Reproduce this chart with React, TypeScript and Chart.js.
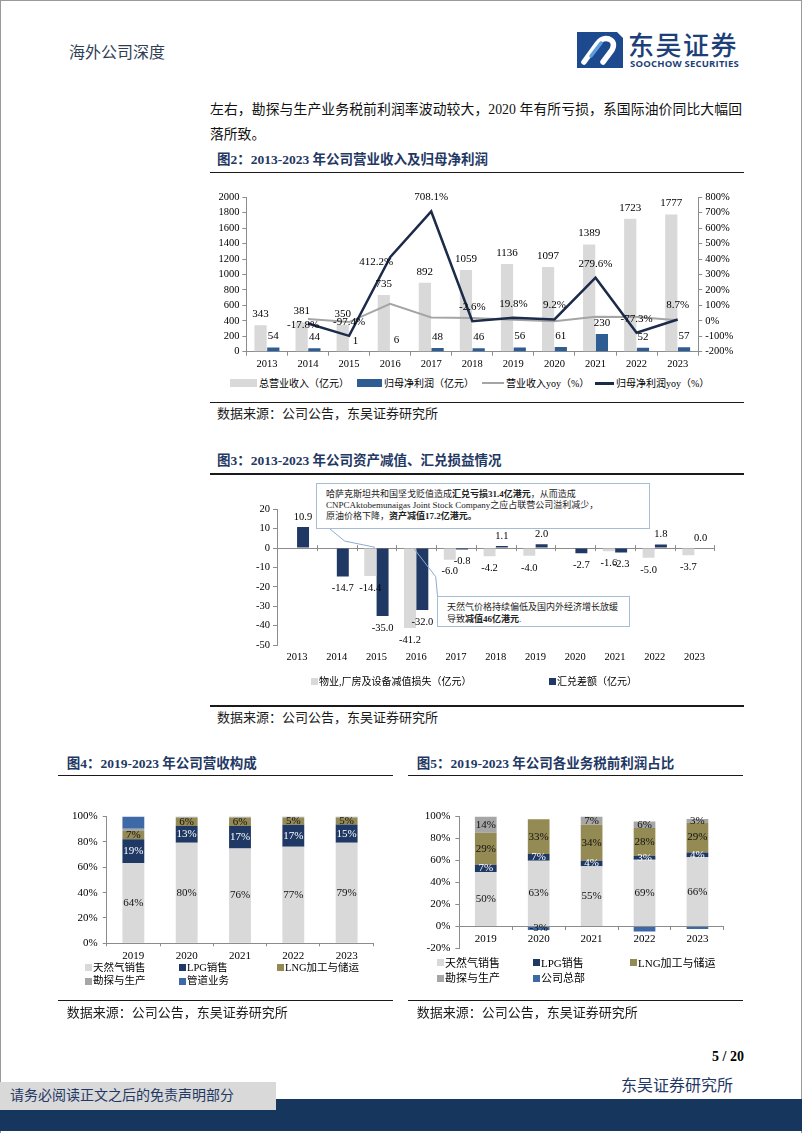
import React, { useEffect, useRef } from 'react';
import { Chart, registerables } from 'chart.js';
Chart.register(...registerables);

const SERIF = "'Liberation Serif', 'Noto Sans CJK SC', serif";
const AXIS = '#8c8c8c';
const C_LIGHT = '#d9d9d9';
const C_BLUE = '#2e5d93';
const C_NAVY = '#1f3864';
const C_LINE_DARK = '#1c2b4a';
const C_LINE_GRAY = '#a5a5a5';
const C_OLIVE = '#948a54';
const C_EXPL = '#a6a6a6';
const C_PIPE = '#3d6aa6';

// ===== 图2 =====
const years2 = ['2013', '2014', '2015', '2016', '2017', '2018', '2019', '2020', '2021', '2022', '2023'];
const revenue = [343, 381, 350, 735, 892, 1059, 1136, 1097, 1389, 1723, 1777];
const netProfit = [54, 44, 1, 6, 48, 46, 56, 61, 230, 52, 57];
const revenueYoy = [null, 11.1, -8.1, 110.0, 21.4, 18.7, 7.3, -3.4, 26.6, 24.0, 3.1];
const profitYoy = [null, -17.8, -97.4, 412.2, 708.1, -2.6, 19.8, 9.2, 279.6, -77.3, 8.7];

// ===== 图3 =====
const years3 = ['2013', '2014', '2015', '2016', '2017', '2018', '2019', '2020', '2021', '2022', '2023'];
const impairment = [null, null, -14.4, -41.2, -6.0, -4.2, -4.0, null, -1.6, -5.0, -3.7];
const fxDiff = [10.9, -14.7, -35.0, -32.0, -0.8, 1.1, 2.0, -2.7, -2.3, 1.8, 0.0];

// ===== 图4 =====
const years4 = ['2019', '2020', '2021', '2022', '2023'];
const rev4Gas = [63.3, 79.3, 74.9, 76.2, 79.3];
const rev4Lpg = [18.9, 13.2, 17.6, 17.3, 14.5];
const rev4Lng = [6.4, 6.5, 6.5, 5.5, 5.2];
const rev4Exp = [1.8, 1.0, 1.0, 1.0, 1.0];
const rev4Pipe = [9.6, 0, 0, 0, 0];
const rev4GasLbl = ['64%', '80%', '76%', '77%', '79%'];
const rev4LpgLbl = ['19%', '13%', '17%', '17%', '15%'];
const rev4LngLbl = ['7%', '6%', '6%', '5%', '5%'];

// ===== 图5 =====
const years5 = ['2019', '2020', '2021', '2022', '2023'];
const pf5Gas = [49.6, 59.9, 54.9, 60.8, 62.9];
const pf5Lpg = [6.5, 6.0, 5.0, 3.6, 4.5];
const pf5Lng = [29.1, 31.7, 32.7, 25.2, 27.3];
const pf5Exp = [14.8, 0, 7.4, 5.9, 3.2];
const pf5Hq = [0, -3.3, 0, -4.7, -2.4];
const pf5GasLbl = ['50%', '63%', '55%', '69%', '66%'];
const pf5LpgLbl = ['7%', '7%', '4%', '3%', '4%'];
const pf5LngLbl = ['29%', '33%', '34%', '28%', '29%'];
const pf5ExpLbl = ['14%', '', '7%', '6%', '3%'];
const pf5HqLbl = ['', '-3%', '', '', ''];

const tickFont = (size: number) => ({ family: SERIF, size });

// ---------- plugins ----------
const labels2Plugin = {
  id: 'labels2',
  afterDatasetsDraw(chart: any) {
    const ctx = chart.ctx;
    ctx.save();
    ctx.font = `11px ${SERIF}`;
    ctx.fillStyle = '#000';
    ctx.textAlign = 'center';
    ctx.textBaseline = 'middle';
    [revenue, netProfit].forEach((arr, di) => {
      chart.getDatasetMeta(di).data.forEach((el: any, i: number) => {
        ctx.fillText(String(arr[i]), el.x, el.y - 11);
      });
    });
    chart.getDatasetMeta(3).data.forEach((el: any, i: number) => {
      const v = profitYoy[i];
      if (v == null) return;
      let dx = 0;
      let dy = -14;
      if (i === 1) { dx = -5; dy = 2; }
      if (i === 3) { dx = -14; dy = 5; }
      ctx.fillText(v.toFixed(1) + '%', el.x + dx, el.y + dy);
    });
    ctx.restore();
  },
};

const labels3Plugin = {
  id: 'labels3',
  afterDatasetsDraw(chart: any) {
    const ctx = chart.ctx;
    const xs = chart.scales.x;
    const ys = chart.scales.y;
    const y0 = ys.getPixelForValue(0);
    const half = (xs.getPixelForValue(1) - xs.getPixelForValue(0)) / 2;
    ctx.save();
    ctx.strokeStyle = AXIS;
    ctx.lineWidth = 1;
    for (let i = 0; i <= years3.length; i++) {
      const px = Math.round(xs.getPixelForValue(0) - half + 2 * half * i) + 0.5;
      ctx.beginPath();
      ctx.moveTo(px, y0 - 3);
      ctx.lineTo(px, y0 + 3);
      ctx.stroke();
    }
    ctx.font = `10.5px ${SERIF}`;
    ctx.fillStyle = '#000';
    ctx.textAlign = 'center';
    ctx.textBaseline = 'middle';
    [impairment, fxDiff].forEach((arr, di) => {
      chart.getDatasetMeta(di).data.forEach((el: any, i: number) => {
        const v = arr[i];
        if (v == null) return;
        const yy = v >= 0 ? el.y - 10 : el.y + 12;
        ctx.fillText(v.toFixed(1), el.x, yy);
      });
    });
    ctx.restore();
  },
};

function stackLabels(id: string, lbls: (string[] | null)[], colors: string[]) {
  return {
    id,
    afterDatasetsDraw(chart: any) {
      const ctx = chart.ctx;
      ctx.save();
      ctx.font = `11px ${SERIF}`;
      ctx.textAlign = 'center';
      ctx.textBaseline = 'middle';
      lbls.forEach((arr, di) => {
        if (!arr) return;
        chart.getDatasetMeta(di).data.forEach((el: any, i: number) => {
          const t = arr[i];
          if (!t) return;
          ctx.fillStyle = colors[di];
          ctx.fillText(t, el.x, (el.y + el.base) / 2);
        });
      });
      ctx.restore();
    },
  };
}

// ---------- chart configs ----------
const make2 = () => ({
  type: 'bar',
  data: {
    labels: years2,
    datasets: [
      { type: 'bar', label: '总营业收入（亿元）', data: revenue, backgroundColor: C_LIGHT, yAxisID: 'y', order: 2, categoryPercentage: 0.62, barPercentage: 0.96 },
      { type: 'bar', label: '归母净利润（亿元）', data: netProfit, backgroundColor: C_BLUE, yAxisID: 'y', order: 2, categoryPercentage: 0.62, barPercentage: 0.96 },
      { type: 'line', label: '营业收入yoy（%）', data: revenueYoy, borderColor: C_LINE_GRAY, borderWidth: 2, pointRadius: 0, yAxisID: 'y1', order: 1, tension: 0 },
      { type: 'line', label: '归母净利润yoy（%）', data: profitYoy, borderColor: C_LINE_DARK, borderWidth: 2.5, pointRadius: 0, yAxisID: 'y1', order: 0, tension: 0 },
    ],
  },
  options: {
    responsive: false,
    animation: false,
    devicePixelRatio: 1,
    layout: { padding: { top: 12.3, left: 0, right: 0, bottom: 0 } },
    plugins: { legend: { display: false }, tooltip: { enabled: false } },
    scales: {
      x: {
        grid: { drawOnChartArea: false, tickLength: 4, color: AXIS },
        border: { color: AXIS },
        ticks: { font: tickFont(10.5), color: '#000', padding: 2 },
        afterFit: (s: any) => { s.height = 18.3; },
      },
      y: {
        position: 'left', min: 0, max: 2000,
        ticks: { stepSize: 200, autoSkip: false, font: tickFont(10.5), color: '#000', padding: 3, callback: (v: any) => String(v) },
        grid: { drawOnChartArea: false, tickLength: 4, color: AXIS },
        border: { color: AXIS },
        afterFit: (s: any) => { s.width = 46.4; },
      },
      y1: {
        position: 'right', min: -200, max: 800,
        ticks: { stepSize: 100, autoSkip: false, font: tickFont(10.5), color: '#000', padding: 3, callback: (v: any) => v + '%' },
        grid: { drawOnChartArea: false, tickLength: 4, color: AXIS },
        border: { color: AXIS },
        afterFit: (s: any) => { s.width = 61.8; },
      },
    },
  },
  plugins: [labels2Plugin],
});

const make3 = () => ({
  type: 'bar',
  data: {
    labels: years3,
    datasets: [
      { label: '物业,厂房及设备减值损失（亿元）', data: impairment, backgroundColor: C_LIGHT, categoryPercentage: 0.62, barPercentage: 0.97 },
      { label: '汇兑差额（亿元）', data: fxDiff, backgroundColor: C_NAVY, categoryPercentage: 0.62, barPercentage: 0.97 },
    ],
  },
  options: {
    responsive: false,
    animation: false,
    devicePixelRatio: 1,
    layout: { padding: { top: 11.3, left: 0, right: 30.6, bottom: 0 } },
    plugins: { legend: { display: false }, tooltip: { enabled: false } },
    scales: {
      x: {
        grid: { display: false, drawTicks: false },
        border: { display: false },
        ticks: { font: tickFont(10.5), color: '#000', padding: 6 },
        afterFit: (s: any) => { s.height = 18; },
      },
      y: {
        min: -50, max: 20,
        ticks: { stepSize: 10, autoSkip: false, font: tickFont(10.5), color: '#000', padding: 3 },
        grid: {
          color: (c: any) => (c.tick && c.tick.value === 0 ? AXIS : 'rgba(0,0,0,0)'),
          tickColor: AXIS, tickLength: 4,
        },
        border: { color: AXIS },
        afterFit: (s: any) => { s.width = 62; },
      },
    },
  },
  plugins: [labels3Plugin],
});

const make4 = () => ({
  type: 'bar',
  data: {
    labels: years4,
    datasets: [
      { label: '天然气销售', data: rev4Gas, backgroundColor: C_LIGHT },
      { label: 'LPG销售', data: rev4Lpg, backgroundColor: C_NAVY },
      { label: 'LNG加工与储运', data: rev4Lng, backgroundColor: C_OLIVE },
      { label: '勘探与生产', data: rev4Exp, backgroundColor: C_EXPL },
      { label: '管道业务', data: rev4Pipe, backgroundColor: C_PIPE },
    ],
  },
  options: {
    responsive: false,
    animation: false,
    devicePixelRatio: 1,
    datasets: { bar: { categoryPercentage: 0.82, barPercentage: 0.5 } },
    layout: { padding: { top: 9.3, left: 0, right: 16.7, bottom: 0 } },
    plugins: { legend: { display: false }, tooltip: { enabled: false } },
    scales: {
      x: {
        stacked: true,
        grid: { drawOnChartArea: false, tickLength: 3, color: AXIS },
        border: { color: AXIS },
        ticks: { font: tickFont(11), color: '#000', padding: 3 },
        afterFit: (s: any) => { s.height = 21.7; },
      },
      y: {
        stacked: true, min: 0, max: 100,
        ticks: { stepSize: 20, autoSkip: false, font: tickFont(11), color: '#000', padding: 5, callback: (v: any) => v + '%' },
        grid: { drawOnChartArea: false, tickLength: 4, color: AXIS },
        border: { color: AXIS },
        afterFit: (s: any) => { s.width = 56.7; },
      },
    },
  },
  plugins: [stackLabels('labels4', [rev4GasLbl, rev4LpgLbl, rev4LngLbl, null, null], ['#111', '#fff', '#111', '#111', '#111'])],
});

const make5 = () => ({
  type: 'bar',
  data: {
    labels: years5,
    datasets: [
      { label: '天然气销售', data: pf5Gas, backgroundColor: C_LIGHT },
      { label: 'LPG销售', data: pf5Lpg, backgroundColor: C_NAVY },
      { label: 'LNG加工与储运', data: pf5Lng, backgroundColor: C_OLIVE },
      { label: '勘探与生产', data: pf5Exp, backgroundColor: C_EXPL },
      { label: '公司总部', data: pf5Hq, backgroundColor: C_PIPE },
    ],
  },
  options: {
    responsive: false,
    animation: false,
    devicePixelRatio: 1,
    datasets: { bar: { categoryPercentage: 0.82, barPercentage: 0.5 } },
    layout: { padding: { top: 10, left: 0, right: 16.1, bottom: 10.7 } },
    plugins: { legend: { display: false }, tooltip: { enabled: false } },
    scales: {
      x: {
        stacked: true,
        position: { y: 0 },
        grid: { drawOnChartArea: false, tickLength: 3, color: AXIS },
        border: { color: AXIS },
        ticks: { font: tickFont(11), color: '#000', padding: 3 },
      },
      y: {
        stacked: true, min: -20, max: 100,
        ticks: { stepSize: 20, autoSkip: false, font: tickFont(11), color: '#000', padding: 5, callback: (v: any) => v + '%' },
        grid: { drawOnChartArea: false, tickLength: 4, color: AXIS },
        border: { color: AXIS },
        afterFit: (s: any) => { s.width = 59.3; },
      },
    },
  },
  plugins: [stackLabels('labels5', [pf5GasLbl, pf5LpgLbl, pf5LngLbl, pf5ExpLbl, pf5HqLbl], ['#111', '#fff', '#111', '#111', '#111'])],
});

// ---------- components ----------
function ChartCanvas({ x, y, w, h, make }: { x: number; y: number; w: number; h: number; make: () => any }) {
  const ref = useRef<HTMLCanvasElement | null>(null);
  useEffect(() => {
    if (!ref.current) return;
    const c = new Chart(ref.current, make());
    return () => c.destroy();
  }, [make]);
  return <canvas ref={ref} width={w} height={h} style={{ position: 'absolute', left: x, top: y, width: w, height: h }} />;
}

function Txt({ x, y, size, children, color = '#000', bold = false, right = false, style = {} }: any) {
  const s: any = {
    position: 'absolute',
    top: y - size * 0.65,
    fontSize: size,
    lineHeight: `${size * 1.3}px`,
    color,
    fontWeight: bold ? 700 : 400,
    fontFamily: SERIF,
    whiteSpace: 'nowrap',
    ...style,
  };
  if (right) s.right = 802 - x; else s.left = x;
  return <div style={s}>{children}</div>;
}

function Rule({ x1, x2, y }: { x1: number; x2: number; y: number }) {
  return <div style={{ position: 'absolute', left: x1, top: y - 0.75, width: x2 - x1, height: 1.5, background: '#1a1a1a' }} />;
}

function Box({ x, y, w, h, color }: any) {
  return <div style={{ position: 'absolute', left: x, top: y, width: w, height: h, background: color }} />;
}

const TITLE_COLOR = '#1f3864';

export default function App() {
  useEffect(() => {
    document.body.style.margin = '0';
  }, []);
  return (
    <div style={{ position: 'absolute', left: 0, top: 0, width: 802, height: 1133, background: '#fff', overflow: 'hidden', fontFamily: SERIF }}>
      {/* page border */}
      <Box x={0} y={0} w={802} h={1} color="#9a9a9a" />
      <Box x={0} y={0} w={1} h={1133} color="#9a9a9a" />
      <Box x={801} y={0} w={1} h={1133} color="#9a9a9a" />

      {/* header */}
      <Txt x={69} y={53} size={16} color="#2f3e55">海外公司深度</Txt>
      <svg style={{ position: 'absolute', left: 577, top: 32 }} width={46} height={36} viewBox="0 0 46 36">
        <path d="M0 0 H40 L46 6 V36 H0 Z" fill="#1d4a8f" />
        <path d="M7 30 L20 12 Q25 5 32 7 Q39 10 35 18 L26 30" stroke="#fff" strokeWidth={5.5} fill="none" strokeLinecap="round" />
        <path d="M14 24 L24 11" stroke="#5c9ee0" strokeWidth={3.5} fill="none" strokeLinecap="round" />
      </svg>
      <div style={{ position: 'absolute', left: 628, top: 29, fontSize: 26, lineHeight: '30px', color: '#1d3f7a', fontFamily: "'Noto Sans CJK SC', sans-serif", fontWeight: 500, letterSpacing: 1.5, whiteSpace: 'nowrap' }}>东吴证券</div>
      <div style={{ position: 'absolute', left: 630, top: 58, fontSize: 9.5, lineHeight: '12px', color: '#1d3f7a', fontFamily: "'Open Sans', sans-serif", fontWeight: 700, letterSpacing: 0.2, whiteSpace: 'nowrap' }}>SOOCHOW SECURITIES</div>

      {/* body text */}
      <div style={{ position: 'absolute', left: 210, top: 101, width: 532, fontSize: 13.8, lineHeight: '18px', fontFamily: SERIF, color: '#111', textAlign: 'justify', textAlignLast: 'justify', whiteSpace: 'nowrap' } as any}>
        左右，勘探与生产业务税前利润率波动较大，2020 年有所亏损，系国际油价同比大幅回
      </div>
      <Txt x={210} y={135} size={13.8} color="#111">落所致。</Txt>

      {/* 图2 */}
      <Txt x={217} y={160} size={13.5} bold color={TITLE_COLOR}>图2：2013-2023 年公司营业收入及归母净利润</Txt>
      <Rule x1={210} x2={744} y={172.7} />
      <ChartCanvas x={200} y={185} w={560} h={185} make={make2} />
      <Box x={230} y={379} w={27} h={8} color={C_LIGHT} />
      <Txt x={259} y={383} size={10}>总营业收入（亿元）</Txt>
      <Box x={357} y={379} w={25} h={8} color={C_BLUE} />
      <Txt x={384} y={383} size={10}>归母净利润（亿元）</Txt>
      <Box x={482} y={382} w={22} h={2} color={C_LINE_GRAY} />
      <Txt x={506} y={383} size={10}>营业收入yoy（%）</Txt>
      <Box x={595} y={382} w={19} h={2.5} color={C_LINE_DARK} />
      <Txt x={616} y={383} size={10}>归母净利润yoy（%）</Txt>
      <Rule x1={210} x2={744} y={402.5} />
      <Txt x={217} y={414} size={13} color="#1a1a1a">数据来源：公司公告，东吴证券研究所</Txt>

      {/* 图3 */}
      <Txt x={217} y={461} size={13.5} bold color={TITLE_COLOR}>图3：2013-2023 年公司资产减值、汇兑损益情况</Txt>
      <Rule x1={210} x2={744} y={474} />
      <ChartCanvas x={215} y={498} w={530} h={165} make={make3} />
      <svg style={{ position: 'absolute', left: 0, top: 0 }} width={802} height={700}>
        <polyline points="330,529 344.6,541 375,547.3" fill="none" stroke="#8faad0" strokeWidth={1} />
        <polyline points="414,548.7 435.7,576.7 437.5,596" fill="none" stroke="#8faad0" strokeWidth={1} />
      </svg>
      <div style={{ position: 'absolute', left: 316, top: 483, width: 334, height: 46, boxSizing: 'border-box', border: '1px solid #a7bdd6', background: '#fff', padding: '5px 0 0 9px', fontSize: 9, lineHeight: '11.2px', color: '#222', fontFamily: SERIF, whiteSpace: 'nowrap' }}>
        <div>哈萨克斯坦共和国坚戈贬值造成<b>汇兑亏损31.4亿港元</b>，从而造成</div>
        <div>CNPCAktobemunaigas Joint Stock Company之应占联营公司溢利减少，</div>
        <div>原油价格下降，<b>资产减值17.2亿港元。</b></div>
      </div>
      <div style={{ position: 'absolute', left: 437, top: 596, width: 193, height: 31, boxSizing: 'border-box', border: '1px solid #a7bdd6', background: '#fff', padding: '5px 0 0 9px', fontSize: 9, lineHeight: '11.5px', color: '#222', fontFamily: SERIF, whiteSpace: 'nowrap' }}>
        <div>天然气价格持续偏低及国内外经济增长放缓</div>
        <div>导致<b>减值46亿港元</b>.</div>
      </div>
      <Box x={311} y={678} w={7} h={7} color={C_LIGHT} />
      <Txt x={319} y={681.7} size={10}>物业,厂房及设备减值损失（亿元）</Txt>
      <Box x={549} y={678} w={7} h={7} color={C_NAVY} />
      <Txt x={557} y={681.7} size={10}>汇兑差额（亿元）</Txt>
      <Rule x1={210} x2={744} y={706} />
      <Txt x={217} y={718} size={13} color="#1a1a1a">数据来源：公司公告，东吴证券研究所</Txt>

      {/* 图4 */}
      <Txt x={66.7} y={763.3} size={13.5} bold color={TITLE_COLOR}>图4：2019-2023 年公司营收构成</Txt>
      <Rule x1={58.3} x2={393.3} y={775.7} />
      <ChartCanvas x={50} y={805} w={340} h={160} make={make4} />
      <Box x={85} y={964} w={7} h={7} color={C_LIGHT} />
      <Txt x={93} y={967.5} size={10.5}>天然气销售</Txt>
      <Box x={179} y={964} w={7} h={7} color={C_NAVY} />
      <Txt x={187} y={967.5} size={10.5}>LPG销售</Txt>
      <Box x={277} y={964} w={7} h={7} color={C_OLIVE} />
      <Txt x={285} y={967.5} size={10.5}>LNG加工与储运</Txt>
      <Box x={85} y={977.5} w={7} h={7} color={C_EXPL} />
      <Txt x={93} y={981} size={10.5}>勘探与生产</Txt>
      <Box x={179} y={977.5} w={7} h={7} color={C_PIPE} />
      <Txt x={187} y={981} size={10.5}>管道业务</Txt>
      <Rule x1={58.3} x2={393.3} y={1000.7} />
      <Txt x={66.7} y={1013.3} size={13} color="#1a1a1a">数据来源：公司公告，东吴证券研究所</Txt>

      {/* 图5 */}
      <Txt x={416.7} y={763.3} size={13.5} bold color={TITLE_COLOR}>图5：2019-2023 年公司各业务税前利润占比</Txt>
      <Rule x1={408} x2={743} y={775.7} />
      <ChartCanvas x={400} y={805} w={340} h={155} make={make5} />
      <Box x={437} y={959.2} w={7} h={7} color={C_LIGHT} />
      <Txt x={445} y={962.7} size={11}>天然气销售</Txt>
      <Box x={533} y={959.2} w={7} h={7} color={C_NAVY} />
      <Txt x={541} y={962.7} size={11}>LPG销售</Txt>
      <Box x={630} y={959.2} w={7} h={7} color={C_OLIVE} />
      <Txt x={638} y={962.7} size={11}>LNG加工与储运</Txt>
      <Box x={437} y={974.8} w={7} h={7} color={C_EXPL} />
      <Txt x={445} y={978.3} size={11}>勘探与生产</Txt>
      <Box x={533} y={974.8} w={7} h={7} color={C_PIPE} />
      <Txt x={541} y={978.3} size={11}>公司总部</Txt>
      <Rule x1={408} x2={743} y={1000.7} />
      <Txt x={416.7} y={1013.3} size={13} color="#1a1a1a">数据来源：公司公告，东吴证券研究所</Txt>

      {/* footer */}
      <Txt x={744} y={1057} size={14} bold right>5 / 20</Txt>
      <Txt x={621} y={1086} size={16} color={TITLE_COLOR}>东吴证券研究所</Txt>
      <Box x={0} y={1099} w={802} h={32} color="#17365d" />
      <Box x={0} y={1082} w={276} h={28} color="#d9d9d9" />
      <Txt x={10} y={1096.5} size={14} color={TITLE_COLOR}>请务必阅读正文之后的免责声明部分</Txt>
    </div>
  );
}
